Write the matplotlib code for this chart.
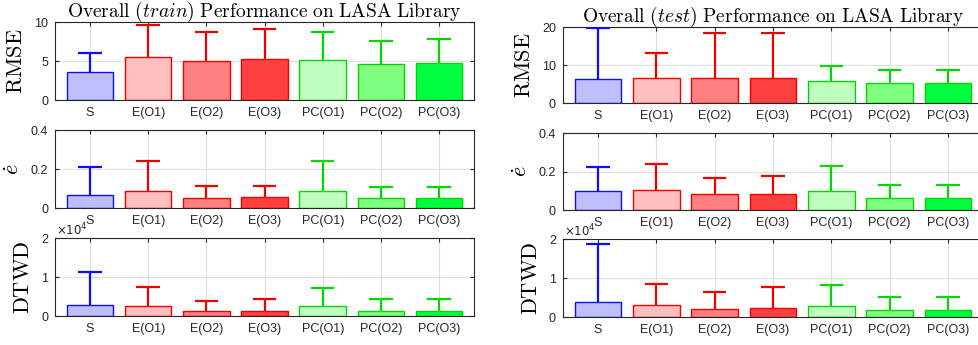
import numpy as np
import matplotlib
matplotlib.use('Agg')
import matplotlib.pyplot as plt

# --- Data ---
methods = ['S', 'E(O1)', 'E(O2)', 'E(O3)', 'PC(O1)', 'PC(O2)', 'PC(O3)']

train_rmse = [3.56, 5.58, 5.02, 5.24, 5.19, 4.59, 4.76]
train_rmse_up = [6.05, 9.57, 8.67, 9.14, 8.76, 7.60, 7.81]
test_rmse = [6.37, 6.73, 6.55, 6.73, 5.84, 5.22, 5.31]
test_rmse_up = [19.8, 13.1, 18.6, 18.4, 9.73, 8.67, 8.67]

train_edot = [0.068, 0.087, 0.054, 0.056, 0.087, 0.051, 0.051]
train_edot_up = [0.208, 0.242, 0.112, 0.114, 0.240, 0.109, 0.109]
test_edot = [0.101, 0.106, 0.082, 0.082, 0.097, 0.064, 0.064]
test_edot_up = [0.224, 0.240, 0.165, 0.176, 0.231, 0.132, 0.130]

# DTWD in units of 1e4
train_dtwd = [0.276, 0.259, 0.121, 0.138, 0.259, 0.138, 0.138]
train_dtwd_up = [1.12, 0.75, 0.38, 0.448, 0.724, 0.431, 0.431]
test_dtwd = [0.397, 0.302, 0.207, 0.233, 0.293, 0.19, 0.19]
test_dtwd_up = [1.88, 0.853, 0.638, 0.767, 0.81, 0.509, 0.509]

face_colors = [(0.75, 0.75, 1), (1, 0.75, 0.75), (1, 0.5, 0.5), (1, 0.25, 0.25),
               (0.75, 1, 0.75), (0.5, 1, 0.5), (0, 1, 0.25)]
edge_colors = [(0.05, 0.05, 1), (0.95, 0, 0), (0.95, 0, 0), (0.95, 0, 0),
               (0, 0.85, 0), (0, 0.85, 0), (0, 0.85, 0)]

plt.rcParams['mathtext.fontset'] = 'cm'
plt.rcParams['font.family'] = ['Liberation Sans', 'DejaVu Sans']

fig = plt.figure(figsize=(9.79, 3.45), dpi=100)

# axes rectangles [left, bottom, width, height] in figure fraction
left_col = [[0.0562, 0.710, 0.428, 0.226],
            [0.0562, 0.397, 0.428, 0.226],
            [0.0562, 0.084, 0.428, 0.226]]
right_col = [[0.575, 0.701, 0.429, 0.220],
             [0.575, 0.391, 0.429, 0.223],
             [0.575, 0.081, 0.429, 0.226]]

dark = (0.15, 0.15, 0.15)


def draw_panel(ax, vals, upper, ylim, yticks, ylabel, exp=False):
    x = np.arange(1, len(vals) + 1)
    ax.bar(x, vals, width=0.8, color=face_colors, edgecolor=edge_colors,
           linewidth=1.0, zorder=2)
    # one-sided (upper) error bars, cap only on top
    ax.vlines(x, vals, upper, colors=edge_colors, linewidth=1.6, zorder=3)
    ax.hlines(upper, x - 0.2, x + 0.2, colors=edge_colors, linewidth=1.6, zorder=3)
    ax.set_xlim(0.4, 7.6)
    ax.set_ylim(*ylim)
    ax.set_yticks(yticks)
    ax.set_xticks(x)
    ax.set_xticklabels(methods)
    ax.yaxis.set_major_formatter(matplotlib.ticker.FormatStrFormatter('%g'))
    ax.grid(True, color=(0.88, 0.88, 0.88), linewidth=0.8, zorder=0)
    ax.set_axisbelow(True)
    ax.tick_params(direction='in', top=True, right=True, length=3,
                   labelsize=9, colors=dark, pad=5)
    for sp in ax.spines.values():
        sp.set_color(dark)
        sp.set_linewidth(0.8)
    ax.set_ylabel(ylabel, fontsize=16, labelpad=5)
    if exp:
        ax.text(0.003, 1.0, r'$\times10^{4}$', transform=ax.transAxes,
                ha='left', va='bottom', fontsize=8.5, color=dark,
                math_fontfamily='dejavusans')


panels = [
    (left_col[0], train_rmse, train_rmse_up, (0, 10), [0, 5, 10], r'$\mathrm{RMSE}$', False),
    (left_col[1], train_edot, train_edot_up, (0, 0.4), [0, 0.2, 0.4], r'$\dot{e}$', False),
    (left_col[2], train_dtwd, train_dtwd_up, (0, 2), [0, 1, 2], r'$\mathrm{DTWD}$', True),
    (right_col[0], test_rmse, test_rmse_up, (0, 20), [0, 10, 20], r'$\mathrm{RMSE}$', False),
    (right_col[1], test_edot, test_edot_up, (0, 0.4), [0, 0.2, 0.4], r'$\dot{e}$', False),
    (right_col[2], test_dtwd, test_dtwd_up, (0, 2), [0, 1, 2], r'$\mathrm{DTWD}$', True),
]

axes = []
for rect, vals, up, ylim, yt, lab, exp in panels:
    ax = fig.add_axes(rect)
    draw_panel(ax, vals, up, ylim, yt, lab, exp)
    axes.append(ax)

axes[0].set_title(r'$\mathrm{Overall\ }(train)\mathrm{\ Performance\ on\ LASA\ Library}$',
                  fontsize=14, pad=4)
axes[3].set_title(r'$\mathrm{Overall\ }(test)\mathrm{\ Performance\ on\ LASA\ Library}$',
                  fontsize=14, pad=4)

fig.savefig('out.png', dpi=100)
